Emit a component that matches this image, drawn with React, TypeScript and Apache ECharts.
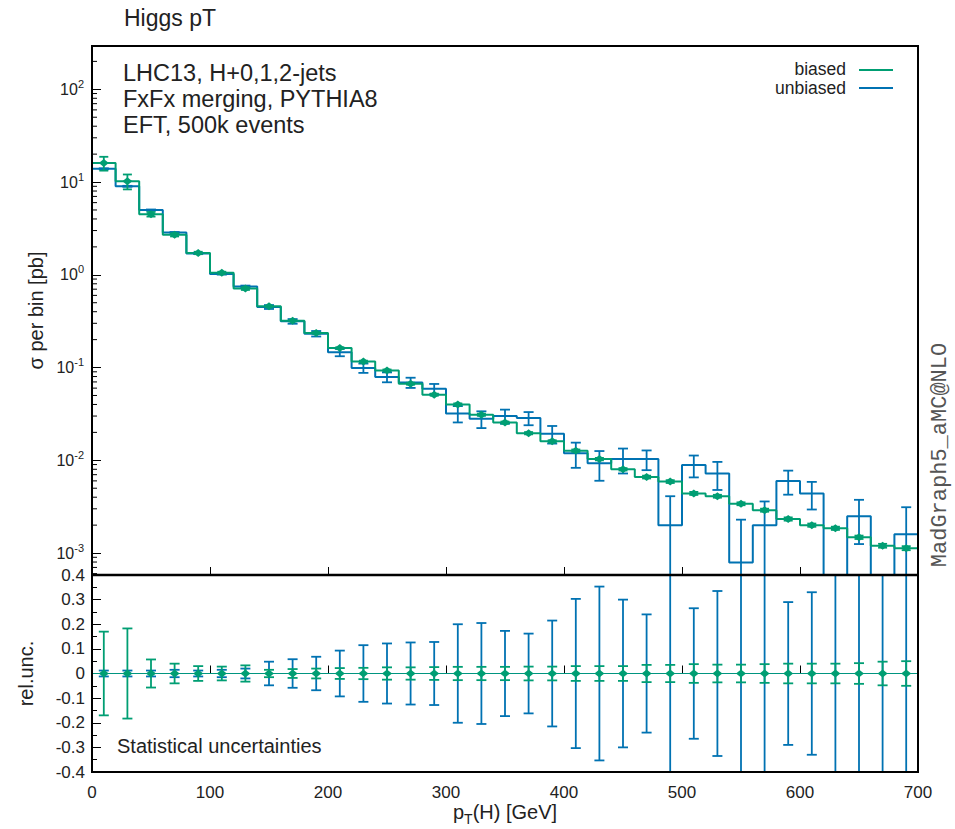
import React, { useEffect, useRef } from 'react';
import * as echarts from 'echarts';

// ---------- data ----------
const binEdges = [0, 20, 40, 60, 80, 100, 120, 140, 160, 180, 200, 220, 240, 260, 280, 300, 320, 340, 360, 380, 400, 420, 440, 460, 480, 500, 520, 540, 560, 580, 600, 620, 640, 660, 680, 700];
const binCenters = [10, 30, 50, 70, 90, 110, 130, 150, 170, 190, 210, 230, 250, 270, 290, 310, 330, 350, 370, 390, 410, 430, 450, 470, 490, 510, 530, 550, 570, 590, 610, 630, 650, 670, 690];

// sigma per bin [pb]
const biased = [16, 10.2, 4.5, 2.7, 1.72, 1.05, 0.71, 0.457, 0.32, 0.236, 0.162, 0.116, 0.093, 0.067, 0.051, 0.040, 0.031, 0.0255, 0.0196, 0.016, 0.0127, 0.0103, 0.008, 0.0066, 0.0059, 0.0044, 0.0041, 0.0034, 0.0029, 0.00233, 0.0020, 0.00185, 0.00148, 0.0012, 0.00113];
const unbiased = [13.9, 9.0, 5.0, 2.85, 1.70, 1.02, 0.75, 0.45, 0.315, 0.232, 0.146, 0.099, 0.079, 0.069, 0.059, 0.032, 0.028, 0.030, 0.0285, 0.0193, 0.0119, 0.0093, 0.0103, 0.0103, 0.0020, 0.0089, 0.0072, 0.00079, 0.0020, 0.0060, 0.0044, 0, 0.0025, 0, 0.0016];

// relative statistical uncertainties
const biasedRelUnc = [0.17, 0.183, 0.057, 0.04, 0.03, 0.028, 0.033, 0.015, 0.018, 0.02, 0.022, 0.023, 0.025, 0.025, 0.026, 0.027, 0.027, 0.027, 0.028, 0.028, 0.03, 0.03, 0.03, 0.035, 0.035, 0.038, 0.036, 0.036, 0.038, 0.04, 0.04, 0.04, 0.042, 0.048, 0.05];
const unbiasedRelUnc = [0.012, 0.012, 0.012, 0.015, 0.012, 0.015, 0.02, 0.048, 0.058, 0.068, 0.093, 0.115, 0.122, 0.126, 0.128, 0.2, 0.205, 0.173, 0.162, 0.215, 0.303, 0.353, 0.3, 0.24, 1.05, 0.265, 0.335, 1.9, 0.8, 0.29, 0.33, 1.0, 0.5, 1.0, 0.95];

const topLines = ['LHC13, H+0,1,2-jets', 'FxFx merging, PYTHIA8', 'EFT, 500k events'];
const seriesNames = ['biased', 'unbiased'];

// ---------- styling ----------
const GREEN = '#009E73';
const BLUE = '#0072B2';
const FONT = "'Liberation Sans', Arial, Helvetica, sans-serif";
const MONO = "'Liberation Mono', 'DejaVu Sans Mono', monospace";
const TXT = '#222';
const FLOOR = 1e-9; // display floor for empty bins on the log axis

const GL = 92, GT = 46, GW = 826, GH1 = 529, GH2 = 197;

function stepData(values: number[]) {
  const pts: number[][] = values.map((v, i) => [binEdges[i], v > 0 ? v : FLOOR]);
  const last = values[values.length - 1];
  pts.push([binEdges[binEdges.length - 1], last > 0 ? last : FLOOR]);
  return pts;
}

function errData(values: number[], rel: number[]) {
  return values.map((v, i) => {
    const vv = v > 0 ? v : FLOOR;
    return [binCenters[i], vv, Math.max(vv * (1 - rel[i]), 1e-12), vv * (1 + rel[i])];
  });
}

function ratioData(rel: number[]) {
  return rel.map((r, i) => [binCenters[i], 0, -r, r]);
}

function makeErrRender(color: string, capHalf: number, marker: boolean, lw: number) {
  return (params: any, api: any) => {
    const x = api.value(0), v = api.value(1), lo = api.value(2), hi = api.value(3);
    const cs = params.coordSys;
    const top = cs.y, bot = cs.y + cs.height;
    const pc = api.coord([x, v]);
    const ph = api.coord([x, hi]);
    const pl = api.coord([x, lo]);
    let yh = ph[1];
    let yl = pl[1];
    if (!isFinite(yl)) yl = bot + 100;
    if (!isFinite(yh)) yh = top - 100;
    const children: any[] = [];
    const y1 = Math.max(top, Math.min(bot, yh));
    const y2 = Math.max(top, Math.min(bot, yl));
    const px = pc[0];
    if (y2 - y1 > 0.5) {
      children.push({ type: 'line', shape: { x1: px, y1, x2: px, y2 }, style: { stroke: color, lineWidth: lw } });
    }
    if (yh >= top && yh <= bot) {
      children.push({ type: 'line', shape: { x1: px - capHalf, y1: yh, x2: px + capHalf, y2: yh }, style: { stroke: color, lineWidth: lw } });
    }
    if (yl >= top && yl <= bot) {
      children.push({ type: 'line', shape: { x1: px - capHalf, y1: yl, x2: px + capHalf, y2: yl }, style: { stroke: color, lineWidth: lw } });
    }
    if (marker && pc[1] >= top && pc[1] <= bot) {
      const y = pc[1];
      children.push({ type: 'polygon', shape: { points: [[px, y - 4], [px + 5, y], [px, y + 4], [px - 5, y]] }, style: { fill: color } });
    }
    return { type: 'group', children };
  };
}

// minor tick positions of the log axis (2..9 x 10^n)
const minorTickValues: number[][] = [];
for (let e = -4; e <= 2; e++) {
  for (let k = 2; k <= 9; k++) {
    const v = k * Math.pow(10, e);
    if (v > 5.8e-4 && v < 293) minorTickValues.push([0, v]);
  }
}

function buildOption(): any {
  return {
    animation: false,
    backgroundColor: '#fff',
    textStyle: { fontFamily: FONT },
    grid: [
      { left: GL, top: GT, width: GW, height: GH1, outerBoundsMode: 'none' },
      { left: GL, top: GT + GH1, width: GW, height: GH2, outerBoundsMode: 'none' },
    ],
    xAxis: [
      {
        gridIndex: 0, type: 'value', min: 0, max: 700, interval: 100,
        axisLine: { show: false },
        axisTick: { show: true, inside: true, length: 8, lineStyle: { color: '#000', width: 1 } },
        axisLabel: { show: false },
        splitLine: { show: false },
      },
      {
        gridIndex: 1, type: 'value', min: 0, max: 700, interval: 100,
        axisLine: { show: false },
        axisTick: { show: true, inside: true, length: 8, lineStyle: { color: '#000', width: 1 } },
        axisLabel: { show: true, fontSize: 17, color: TXT, margin: 12, fontFamily: FONT },
        splitLine: { show: false },
        name: '{a|p}{s|T}{a|(H) [GeV]}',
        nameLocation: 'middle',
        nameGap: 30,
        nameTextStyle: {
          rich: {
            a: { fontSize: 20, color: TXT, fontFamily: FONT, lineHeight: 24, verticalAlign: 'top' },
            s: { fontSize: 14, color: TXT, fontFamily: FONT, lineHeight: 14, verticalAlign: 'bottom' },
          },
        },
      },
    ],
    yAxis: [
      {
        gridIndex: 0, type: 'log', logBase: 10, min: 5.8e-4, max: 293,
        axisLine: { show: false },
        axisTick: { show: true, inside: true, length: 9, lineStyle: { color: '#000', width: 1 } },
        axisLabel: {
          show: true, margin: 8,
          formatter: (v: number) => {
            const e = Math.log10(v);
            const n = Math.round(e);
            if (Math.abs(e - n) > 1e-6) return '';
            return '{b|10}{e|' + n + '}';
          },
          rich: {
            b: { fontSize: 16, color: TXT, fontFamily: FONT, lineHeight: 22, verticalAlign: 'middle' },
            e: { fontSize: 11, color: TXT, fontFamily: FONT, lineHeight: 11, verticalAlign: 'top' },
          },
        },
        splitLine: { show: false },
        name: 'σ per bin [pb]',
        nameLocation: 'middle',
        nameGap: 44,
        nameTextStyle: { fontSize: 20, color: TXT, fontFamily: FONT },
      },
      {
        gridIndex: 1, type: 'value', min: -0.4, max: 0.4, interval: 0.1,
        axisLine: { show: false },
        axisTick: { show: true, inside: true, length: 9, lineStyle: { color: '#000', width: 1 } },
        minorTick: { show: true, splitNumber: 2, length: 5, lineStyle: { color: '#000', width: 1 } },
        axisLabel: {
          show: true, margin: 7, fontSize: 17, color: TXT, fontFamily: FONT,
          formatter: (v: number) => (Math.abs(v) < 1e-9 ? '0' : v.toFixed(1)),
        },
        splitLine: { show: false },
        name: 'rel.unc.',
        nameLocation: 'middle',
        nameGap: 56,
        nameTextStyle: { fontSize: 20, color: TXT, fontFamily: FONT },
      },
    ],
    series: [
      {
        name: seriesNames[1], type: 'line', xAxisIndex: 0, yAxisIndex: 0, step: 'end',
        data: stepData(unbiased), symbol: 'none', clip: true,
        lineStyle: { color: BLUE, width: 2 }, itemStyle: { color: BLUE }, z: 2,
      },
      {
        name: seriesNames[0], type: 'line', xAxisIndex: 0, yAxisIndex: 0, step: 'end',
        data: stepData(biased), symbol: 'none', clip: true,
        lineStyle: { color: GREEN, width: 2 }, itemStyle: { color: GREEN }, z: 3,
      },
      {
        type: 'custom', xAxisIndex: 0, yAxisIndex: 0, z: 4, silent: true,
        encode: { x: 0, y: 1 },
        data: errData(unbiased, unbiasedRelUnc),
        renderItem: makeErrRender(BLUE, 5, false, 1.8),
      },
      {
        type: 'custom', xAxisIndex: 0, yAxisIndex: 0, z: 5, silent: true,
        encode: { x: 0, y: 1 },
        data: errData(biased, biasedRelUnc),
        renderItem: makeErrRender(GREEN, 4.5, true, 1.8),
      },
      {
        type: 'custom', xAxisIndex: 0, yAxisIndex: 0, z: 6, silent: true,
        encode: { x: 0, y: 1 },
        data: minorTickValues,
        renderItem: (params: any, api: any) => {
          const p = api.coord([0, api.value(1)]);
          const cs = params.coordSys;
          return { type: 'line', shape: { x1: cs.x, y1: p[1], x2: cs.x + 5, y2: p[1] }, style: { stroke: '#000', lineWidth: 1 } };
        },
      },
      {
        type: 'line', xAxisIndex: 1, yAxisIndex: 1, data: [[0, 0], [700, 0]], symbol: 'none',
        lineStyle: { color: BLUE, width: 1 }, z: 2, silent: true,
      },
      {
        type: 'line', xAxisIndex: 1, yAxisIndex: 1, data: [[0, 0], [700, 0]], symbol: 'none',
        lineStyle: { color: GREEN, width: 1, opacity: 0.8 }, z: 3, silent: true,
      },
      {
        type: 'custom', xAxisIndex: 1, yAxisIndex: 1, z: 4, silent: true,
        encode: { x: 0, y: 1 },
        data: ratioData(unbiasedRelUnc),
        renderItem: makeErrRender(BLUE, 5, false, 1.8),
      },
      {
        type: 'custom', xAxisIndex: 1, yAxisIndex: 1, z: 5, silent: true,
        encode: { x: 0, y: 1 },
        data: ratioData(biasedRelUnc),
        renderItem: makeErrRender(GREEN, 5, true, 1.8),
      },
    ],
    graphic: [
      {
        type: 'rect', z: 100, silent: true,
        shape: { x: GL, y: GT, width: GW, height: GH1 + GH2 },
        style: { fill: 'none', stroke: '#000', lineWidth: 2 },
      },
      {
        type: 'line', z: 100, silent: true,
        shape: { x1: GL, y1: GT + GH1, x2: GL + GW, y2: GT + GH1 },
        style: { stroke: '#000', lineWidth: 2.5 },
      },
      {
        type: 'text', z: 100, x: 124, y: 18,
        style: { text: 'Higgs pT', fontSize: 23, fontFamily: FONT, fill: TXT, align: 'left', verticalAlign: 'middle' },
      },
      ...topLines.map((t, i) => ({
        type: 'text', z: 100, x: 123, y: 73 + i * 26,
        style: { text: t, fontSize: 23.5, lineHeight: 25, fontFamily: FONT, fill: TXT, align: 'left', verticalAlign: 'middle' },
      })),
      {
        type: 'text', z: 100, x: 846, y: 68.5,
        style: { text: seriesNames[0], fontSize: 17.5, lineHeight: 17, fontFamily: FONT, fill: TXT, align: 'right', verticalAlign: 'middle' },
      },
      {
        type: 'text', z: 100, x: 846, y: 88,
        style: { text: seriesNames[1], fontSize: 17.5, lineHeight: 17, fontFamily: FONT, fill: TXT, align: 'right', verticalAlign: 'middle' },
      },
      {
        type: 'line', z: 100, shape: { x1: 859, y1: 70, x2: 893, y2: 70 },
        style: { stroke: GREEN, lineWidth: 2 },
      },
      {
        type: 'line', z: 100, shape: { x1: 859, y1: 88, x2: 893, y2: 88 },
        style: { stroke: BLUE, lineWidth: 2 },
      },
      {
        type: 'text', z: 100, x: 117, y: 746,
        style: { text: 'Statistical uncertainties', fontSize: 20, fontFamily: FONT, fill: TXT, align: 'left', verticalAlign: 'middle' },
      },
      {
        type: 'text', z: 100, x: 940, y: 455, rotation: Math.PI / 2,
        style: { text: 'MadGraph5_aMC@NLO', fontSize: 22, fontFamily: MONO, fill: '#555', align: 'center', verticalAlign: 'middle' },
      },
    ],
  };
}

export default function App() {
  const ref = useRef<HTMLDivElement>(null);
  useEffect(() => {
    if (!ref.current) return;
    const chart = echarts.init(ref.current, null, { renderer: 'svg' });
    chart.setOption(buildOption());
    return () => chart.dispose();
  }, []);
  return (
    <div
      ref={ref}
      style={{ position: 'absolute', left: 0, top: 0, width: 955, height: 829, background: '#fff' }}
    />
  );
}
